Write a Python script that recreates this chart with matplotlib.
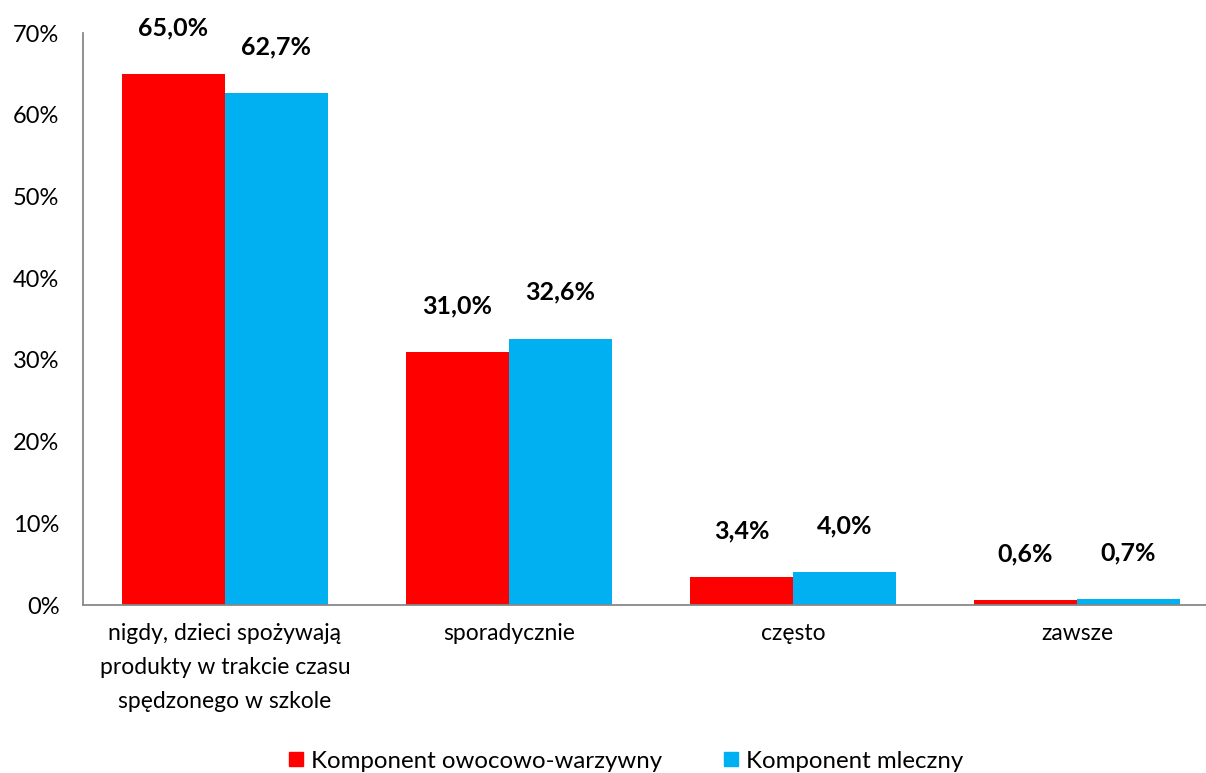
import matplotlib
matplotlib.use("Agg")
import matplotlib.pyplot as plt
import numpy as np
from matplotlib.patches import Patch

categories = ["nigdy, dzieci spożywają\nprodukty w trakcie czasu\nspędzonego w szkole",
              "sporadycznie", "często", "zawsze"]
series_names = ["Komponent owocowo-warzywny", "Komponent mleczny"]
owocowo = [65.0, 31.0, 3.4, 0.6]
mleczny = [62.7, 32.6, 4.0, 0.7]
yticks = [0, 10, 20, 30, 40, 50, 60, 70]
colors = ["#FF0000", "#00B0F0"]

plt.rcParams['font.family'] = ['Lato', 'DejaVu Sans']

W, H = 1206, 773
fig = plt.figure(figsize=(W/100, H/100), dpi=100)
left, right, top, bottom = 83, 1206, 33, 605
ax = fig.add_axes([left/W, 1-bottom/H, (right-left)/W, (bottom-top)/H])

x = np.arange(len(categories))
bw = 103/284
ax.bar(x - bw/2, owocowo, bw, color=colors[0], linewidth=0)
ax.bar(x + bw/2, mleczny, bw, color=colors[1], linewidth=0)

ax.set_xlim(-0.5, -0.5 + (right-left)/284)
ax.set_ylim(0, 70)
ax.set_yticks(yticks)
ax.set_yticklabels([f"{v}%" for v in yticks], fontsize=17)
ax.tick_params(axis='y', length=0, pad=17)
ax.tick_params(axis='x', length=0, pad=13)
ax.set_xticks(x)
ax.set_xticklabels(categories, fontsize=16.5, linespacing=1.75)
for s in ['top', 'right']:
    ax.spines[s].set_visible(False)
for s in ['left', 'bottom']:
    ax.spines[s].set_color('#888888')
    ax.spines[s].set_linewidth(1.3)

def fmt(v):
    return f"{v:.1f}%".replace('.', ',')

for i in range(len(categories)):
    ax.annotate(fmt(owocowo[i]), (x[i] - bw/2, owocowo[i]), xytext=(0, 25),
                textcoords='offset points', ha='center', va='bottom',
                fontsize=18, fontweight='bold')
    ax.annotate(fmt(mleczny[i]), (x[i] + bw/2, mleczny[i]), xytext=(0, 25),
                textcoords='offset points', ha='center', va='bottom',
                fontsize=18, fontweight='bold')

handles = [Patch(color=c, label=n) for c, n in zip(colors, series_names)]
fig.legend(handles=handles, loc='center', bbox_to_anchor=(626/W, 1-761/H),
           ncol=2, frameon=False, fontsize=17.3, handlelength=0.58, handleheight=0.58,
           handletextpad=0.33, columnspacing=2.6)

fig.savefig("out.png", dpi=100)
